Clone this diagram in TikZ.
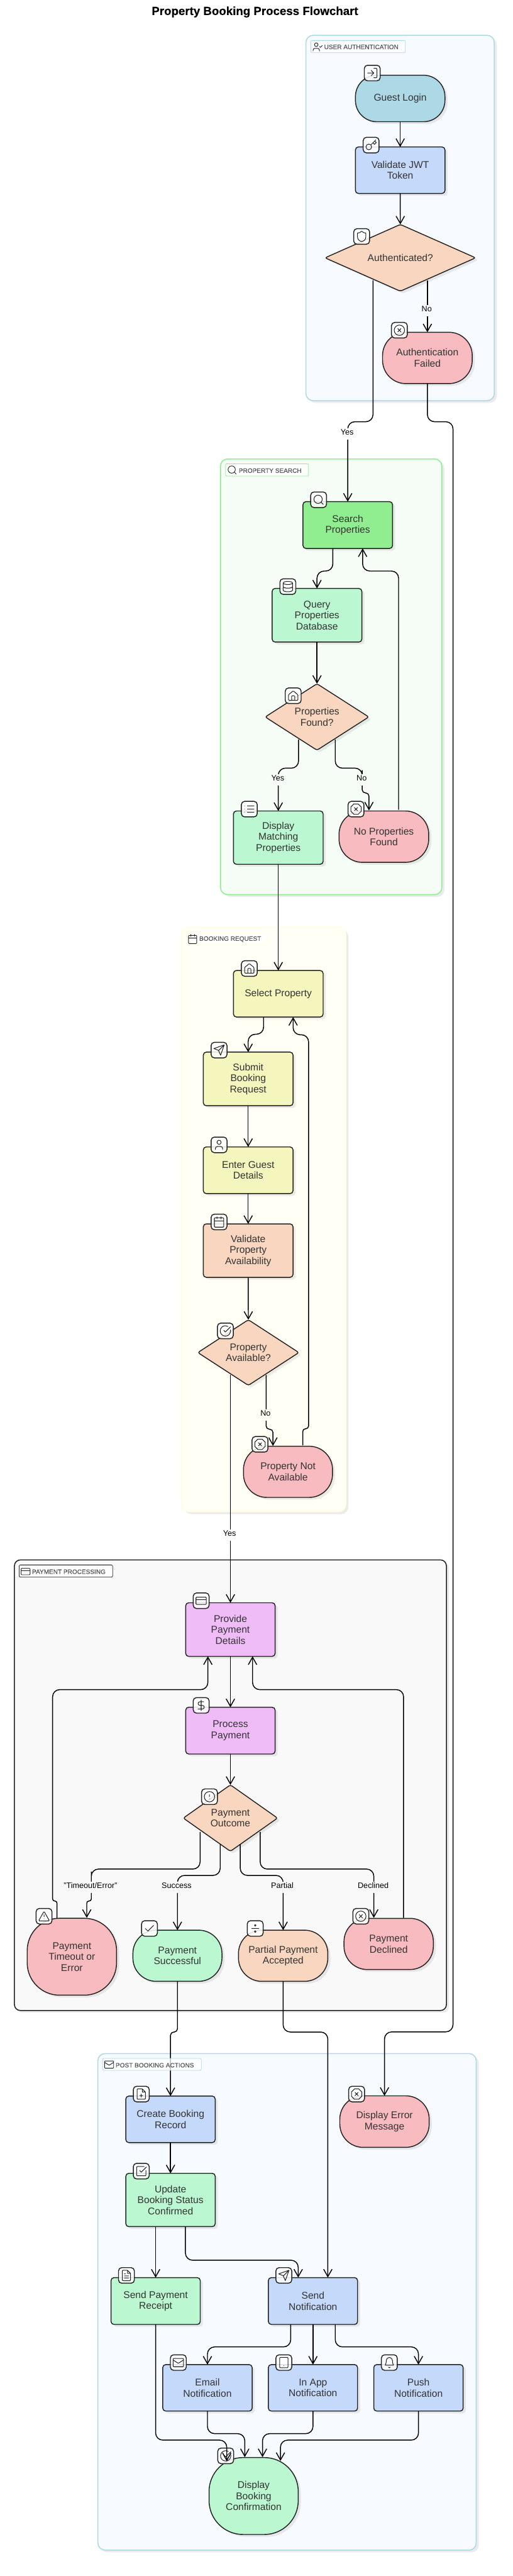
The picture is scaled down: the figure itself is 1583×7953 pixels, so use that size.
\documentclass[tikz,border=0pt]{standalone}
\usepackage{fontspec}
\setmainfont{Liberation Sans}
\newfontfamily\titlefont[FakeBold=0.3]{Liberation Sans Bold}
\newfontfamily\glabfont[FakeBold=0.25]{Liberation Sans}
\usetikzlibrary{arrows.meta,shapes.geometric}
\definecolor{ink}{HTML}{222222}
\definecolor{ctext}{HTML}{333333}
\definecolor{cteal}{HTML}{ADD8E6}
\definecolor{cblue}{HTML}{C5D9FB}
\definecolor{cpeach}{HTML}{F8D6BF}
\definecolor{cpink}{HTML}{F8BBBF}
\definecolor{cgreen}{HTML}{90EE90}
\definecolor{cmint}{HTML}{BBF7D0}
\definecolor{cyell}{HTML}{F5F5BE}
\definecolor{cviolet}{HTML}{F0BCF8}
\definecolor{gblue}{HTML}{F7FBFF}
\definecolor{ggreen}{HTML}{F6FDF6}
\definecolor{gyell}{HTML}{FFFFF6}
\definecolor{ggrey}{HTML}{F9F9F9}
\definecolor{byell}{HTML}{FFFFE0}
\definecolor{glabtext}{HTML}{555555}
\tikzset{
  sz/.style 2 args={minimum width=#1pt,minimum height=#2pt},
  cast/.style={preaction={fill=black,fill opacity=.08,transform canvas={shift={(8pt,-7pt)}}}},
  base/.style={draw=ink,line width=2.8pt,inner sep=0pt,outer sep=0pt,align=center,text=ctext,cast,
     font=\fontsize{30.3}{34}\selectfont},
  boxn/.style={base,rectangle,rounded corners=9pt},
  pill/.style={base,rectangle,rounded corners=#1pt},
  dia/.style={base,diamond,shape aspect=1.5,rounded corners=6pt,fill=cpeach},
  group/.style={rectangle,line width=3pt,inner sep=0pt,outer sep=0pt,rounded corners=22pt,cast},
  glab/.style={rectangle,line width=1.5pt,rounded corners=4pt,inner sep=0pt,fill=white,fill opacity=.75},
  gtext/.style={anchor=west,inner sep=0pt,text=glabtext,font=\glabfont\fontsize{19.5}{22}\selectfont},
  iconbox/.style={draw=ink,line width=2.8pt,rectangle,rounded corners=10pt,inner sep=0pt,outer sep=0pt,
     minimum width=49pt,minimum height=48pt,fill=white,fill opacity=.86},
  flow/.style={draw=black,line width=2.8pt,rounded corners=22pt,-{Straight Barb[length=23pt,width=26pt]}},
  elabel/.style={inner sep=0pt,outer sep=0pt,text=black,text height=20pt,text depth=15pt,
     font=\fontsize{24.5}{26}\selectfont},
  ttl/.style={inner sep=0pt,text=black,font=\titlefont\fontsize{36.3}{40}\selectfont},
  glyph/.style={color=ink,line width=2pt,line cap=round,line join=round,shift={(-12,-12)}},
  glyphl/.style={color=ink,line width=1.8pt,line cap=round,line join=round,shift={(-12,-12)}},
  iclogin/.pic={\draw[glyph,rounded corners=2pt] (15,3) -- (21,3) -- (21,21) -- (15,21) [sharp corners] (10,17) -- (15,12) -- (10,7) (15,12) -- (3,12);},
  ickey/.pic={\draw[glyph] (7.5,15.5) circle[radius=5.5] (21,2) -- (11.4,11.6) (15.5,7.5) -- (18.5,10.5) -- (22,7) -- (19,4);},
  icshield/.pic={\draw[glyph] (20,13) .. controls (20,18) and (16.5,20.5) .. (12,22) .. controls (7.5,20.5) and (4,18) .. (4,13) -- (4,5.5) .. controls (6.5,5.5) and (9.5,4.3) .. (12,2) .. controls (14.5,4.3) and (17.5,5.5) .. (20,5.5) -- cycle;},
  iccircx/.pic={\draw[glyph] (12,12) circle[radius=10] (15,9) -- (9,15) (9,9) -- (15,15);},
  icsearch/.pic={\draw[glyph] (11,11) circle[radius=8] (21,21) -- (16.7,16.7);},
  icsearchl/.pic={\draw[glyphl] (11,11) circle[radius=8] (21,21) -- (16.7,16.7);},
  icdb/.pic={\draw[glyph] (12,5) ellipse[x radius=9,y radius=3] (3,5) -- (3,19) .. controls (3,20.66) and (7,22) .. (12,22) .. controls (17,22) and (21,20.66) .. (21,19) -- (21,5) (3,12) .. controls (3,13.66) and (7,15) .. (12,15) .. controls (17,15) and (21,13.66) .. (21,12);},
  ichome/.pic={\draw[glyph,rounded corners=2pt] (3,10) -- (12,2.5) -- (21,10) -- (21,21) -- (3,21) -- cycle (9,21) -- (9,12) -- (15,12) -- (15,21);},
  iclist/.pic={\draw[glyph] (8,6) -- (21,6) (8,12) -- (21,12) (8,18) -- (21,18) (3,6) -- (3.01,6) (3,12) -- (3.01,12) (3,18) -- (3.01,18);},
  icoctx/.pic={\draw[glyph] (7.86,2) -- (16.14,2) -- (22,7.86) -- (22,16.14) -- (16.14,22) -- (7.86,22) -- (2,16.14) -- (2,7.86) -- cycle (15,9) -- (9,15) (9,9) -- (15,15);},
  icsend/.pic={\draw[glyph] (15,21.9) -- (22,2) -- (2,9) -- (10.8,12.4) -- cycle (21.85,2.15) -- (10.9,13.1);},
  icuser/.pic={\draw[glyph] (12,7) circle[radius=4] (19,21) -- (19,19) .. controls (19,16.8) and (17.2,15) .. (15,15) -- (9,15) .. controls (6.8,15) and (5,16.8) .. (5,19) -- (5,21);},
  iccal/.pic={\draw[glyph] (8,2) -- (8,6) (16,2) -- (16,6) (3,10) -- (21,10) [rounded corners=2pt] (3,4) rectangle (21,22);},
  iccalb/.pic={\draw[glyphl] (8,2) -- (8,6) (16,2) -- (16,6) (3,10) -- (21,10) [rounded corners=2pt] (3,4) rectangle (21,22);},
  iccheckbig/.pic={\draw[glyph] (17,3.34) .. controls (15.5,2.5) and (13.8,2) .. (12,2) .. controls (6.48,2) and (2,6.48) .. (2,12) .. controls (2,17.52) and (6.48,22) .. (12,22) .. controls (17.52,22) and (22,17.52) .. (22,12) .. controls (22,11.3) and (21.93,10.65) .. (21.8,10) (9,11) -- (12,14) -- (22,4);},
  iccard/.pic={\draw[glyph,rounded corners=2pt] (2,5) rectangle (22,19) [sharp corners] (2,10) -- (22,10);},
  iccardl/.pic={\draw[glyphl,rounded corners=2pt] (2,5) rectangle (22,19) [sharp corners] (2,10) -- (22,10);},
  icdollar/.pic={\draw[glyph] (12,2) -- (12,22) (17,5) -- (9.5,5) .. controls (7.57,5) and (6,6.57) .. (6,8.5) .. controls (6,10.43) and (7.57,12) .. (9.5,12) -- (14.5,12) .. controls (16.43,12) and (18,13.57) .. (18,15.5) .. controls (18,17.43) and (16.43,19) .. (14.5,19) -- (6,19);},
  icalert/.pic={\draw[glyph] (12,12) circle[radius=10] (12,8) -- (12,12) (12,16) -- (12.01,16);},
  ictri/.pic={\draw[glyph] (12,9) -- (12,13) (12,17) -- (12.01,17) [rounded corners=2.5pt] (12,2.5) -- (22.5,21) -- (1.5,21) -- cycle;},
  iccheck/.pic={\draw[glyph] (20,6) -- (9,17) -- (4,12);},
  icdivide/.pic={\draw[glyph] (5,12) -- (19,12) (12,6) circle[radius=1.6] (12,18) circle[radius=1.6];},
  icfileplus/.pic={\draw[glyph] (14,2) -- (14,8) -- (20,8) (12,18) -- (12,12) (9,15) -- (15,15) [rounded corners=2pt] (14,2) -- (4,2) -- (4,22) -- (20,22) -- (20,8) -- cycle;},
  icsqcheck/.pic={\draw[glyph] (9,11) -- (12,14) -- (22,4) [rounded corners=2pt] (21,10.5) -- (21,21) -- (3,21) -- (3,3) -- (17.5,3);},
  icfiletext/.pic={\draw[glyph] (14,2) -- (14,8) -- (20,8) (16,13) -- (8,13) (16,17) -- (8,17) (10,9) -- (8,9) [rounded corners=2pt] (14,2) -- (4,2) -- (4,22) -- (20,22) -- (20,8) -- cycle;},
  icmail/.pic={\draw[glyph] [rounded corners=2pt] (2,4) rectangle (22,20) (22,7) -- (12,13.5) -- (2,7);},
  icmaill/.pic={\draw[glyphl] [rounded corners=2pt] (2,4) rectangle (22,20) (22,7) -- (12,13.5) -- (2,7);},
  ictablet/.pic={\draw[glyph] (12,18) -- (12.01,18) [rounded corners=2pt] (4,2) rectangle (20,22);},
  icbell/.pic={\draw[glyph] (10.3,21) .. controls (11,22.3) and (13,22.3) .. (13.7,21) (4,17) -- (20,17) .. controls (19,15) and (18,13) .. (18,8) .. controls (18,4.7) and (15.3,2) .. (12,2) .. controls (8.7,2) and (6,4.7) .. (6,8) .. controls (6,13) and (5,15) .. (4,17) -- cycle;},
  icusercheck/.pic={\draw[glyphl] (9,7) circle[radius=4] (16,21) -- (16,19) .. controls (16,16.8) and (14.2,15) .. (12,15) -- (6,15) .. controls (3.8,15) and (2,16.8) .. (2,19) -- (2,21) (16,11) -- (18,13) -- (22,9);},
}
\newcommand{\iconat}[4]{\node[iconbox] (#1) at (#2,#3) {}; \pic[scale=1.6] at (#1) {#4};}
\begin{document}
\begin{tikzpicture}[x=1pt,y=-1pt]
\useasboundingbox (0,0) rectangle (1583,7953);
\fill[white] (0,0) rectangle (1583,7953);

% groups
\node[group,draw=cteal,fill=gblue,sz={581.5}{1128}] (gauth) at (1235.75,673) {};
\node[group,draw=cgreen,fill=ggreen,sz={683.5}{1345}] (gsearch) at (1022.75,2089.5) {};
\node[group,draw=byell,fill=gyell,sz={508}{1804.5}] (gbook) at (814,3765.25) {};
\node[group,draw=ink,fill=ggrey,sz={1334}{1391},rounded corners=18pt] (gpay) at (711.6,5511.5) {};
\node[group,draw=cteal,fill=gblue,sz={1168.3}{1533}] (gpost) at (886.5,7106.5) {};

% title
\node[ttl] (title) at (787.3,37) {Property Booking Process Flowchart};

% user authentication
\node[pill=66,fill=cteal,sz={276.5}{143.5}] (guest) at (1236,304) {Guest Login};
\iconat{icguest}{1149.7}{225.5}{iclogin}
\node[boxn,fill=cblue,sz={276.5}{143.5}] (validate) at (1236,525.5) {Validate JWT\\Token};
\iconat{icvalidate}{1146.2}{448}{ickey}
\node[dia,sz={465}{206}] (authd) at (1236.4,796) {Authenticated?};
\iconat{icauthd}{1117}{730}{icshield}
\node[pill=72,fill=cpink,sz={277}{158.5}] (authfail) at (1320,1105) {Authentication\\Failed};
\iconat{icauthfail}{1233.5}{1019.5}{iccircx}

% property search
\node[boxn,fill=cgreen,sz={276.5}{144.5}] (search) at (1074,1621) {Search\\Properties};
\iconat{icsearchn}{984}{1543}{icsearch}
\node[boxn,fill=cmint,sz={277}{165.5}] (query) at (979,1899.5) {Query\\Properties\\Database};
\iconat{icquery}{889}{1811}{icdb}
\node[dia,sz={320}{205}] (propd) at (979,2213.5) {Properties\\Found?};
\iconat{icpropd}{905.5}{2148}{ichome}
\node[boxn,fill=cmint,sz={277}{164.5}] (showprops) at (859.5,2586) {Display\\Matching\\Properties};
\iconat{icshow}{770}{2498}{iclist}
\node[pill=72,fill=cpink,sz={277}{158.5}] (noprops) at (1185.6,2583) {No Properties\\Found};
\iconat{icnoprops}{1099.5}{2498}{icoctx}

% booking request
\node[boxn,fill=cyell,sz={277}{143.5}] (select) at (859.5,3068) {Select Property};
\iconat{icselect}{770}{2990}{ichome}
\node[boxn,fill=cyell,sz={277}{165.5}] (submit) at (766.5,3331) {Submit\\Booking\\Request};
\iconat{icsubmit}{676.5}{3242}{icsend}
\node[boxn,fill=cyell,sz={277}{144}] (guestd) at (766.5,3613) {Enter Guest\\Details};
\iconat{icguestd}{676.5}{3534.6}{icuser}
\node[boxn,fill=cpeach,sz={277}{165}] (validav) at (766.5,3861) {Validate\\Property\\Availability};
\iconat{icvalidav}{676.5}{3772.6}{iccal}
\node[dia,sz={312}{202.5}] (availd) at (767,4175.8) {Property\\Available?};
\iconat{icavaild}{696}{4109}{iccheckbig}
\node[pill=72,fill=cpink,sz={275}{158}] (notavail) at (889.5,4544) {Property Not\\Available};
\iconat{icnotavail}{803}{4459}{icoctx}

% payment processing
\node[boxn,fill=cviolet,sz={276}{165.5}] (provide) at (711.6,5031) {Provide\\Payment\\Details};
\iconat{icprovide}{621.3}{4942}{iccard}
\node[boxn,fill=cviolet,sz={276}{144.4}] (process) at (711.6,5343) {Process\\Payment};
\iconat{icprocess}{621.3}{5265}{icdollar}
\node[dia,sz={291}{205}] (payd) at (711.6,5613) {Payment\\Outcome};
\iconat{icpayd}{647}{5547}{icalert}
\node[pill=100,fill=cpink,sz={276}{237.5}] (timeout) at (222,6041) {Payment\\Timeout or\\Error};
\iconat{ictimeout}{136}{5916}{ictri}
\node[pill=72,fill=cmint,sz={275}{158}] (success) at (548,6038) {Payment\\Successful};
\iconat{icsuccess}{461.6}{5953.8}{iccheck}
\node[pill=72,fill=cpeach,sz={276}{158}] (partial) at (874.5,6038) {Partial Payment\\Accepted};
\iconat{icpartial}{788.2}{5953.8}{icdivide}
\node[pill=72,fill=cpink,sz={276}{158}] (declined) at (1200.4,6001.5) {Payment\\Declined};
\iconat{icdeclined}{1114.4}{5916}{iccircx}

% post booking actions
\node[boxn,fill=cblue,sz={276}{143.5}] (create) at (526.6,6543) {Create Booking\\Record};
\iconat{iccreate}{436.3}{6465}{icfileplus}
\node[boxn,fill=cmint,sz={276}{164.5}] (update) at (526.6,6792) {Update\\Booking Status\\Confirmed};
\iconat{icupdate}{436.3}{6703}{icsqcheck}
\node[boxn,fill=cmint,sz={275.5}{144.5}] (receipt) at (480.7,7104) {Send Payment\\Receipt};
\iconat{icreceipt}{390.5}{7025}{icfiletext}
\node[boxn,fill=cblue,sz={275.5}{144.5}] (notify) at (966.6,7104) {Send\\Notification};
\iconat{icnotify}{876.5}{7025}{icsend}
\node[boxn,fill=cblue,sz={276}{143.5}] (email) at (640.7,7372) {Email\\Notification};
\iconat{icemail}{550.7}{7294}{icmail}
\node[boxn,fill=cblue,sz={275.5}{143.5}] (inapp) at (966.6,7372) {In App\\Notification};
\iconat{icinapp}{876.5}{7294}{ictablet}
\node[boxn,fill=cblue,sz={276}{143.5}] (push) at (1292.4,7372) {Push\\Notification};
\iconat{icpush}{1202.5}{7294}{icbell}
\node[pill=105,fill=cmint,sz={275.5}{237.5}] (confirm) at (783.4,7706) {Display\\Booking\\Confirmation};
\iconat{icconfirm}{697}{7582}{iccheckbig}
\node[pill=72,fill=cpink,sz={276}{159}] (errmsg) at (1187.5,6550) {Display Error\\Message};
\iconat{icerrmsg}{1101.4}{6465}{icoctx}

% ports: where a connector leaves or meets a node off its centre line
\coordinate (authYes) at (1152,865);
\coordinate (authNo) at (1320,865);
\coordinate (searchOut) at (1028,1693);
\coordinate (searchBack) at (1120,1693);
\coordinate (propYes) at (922,2283);
\coordinate (propNo) at (1035.4,2283);
\coordinate (noIn) at (1139.5,2502);
\coordinate (noOut) at (1231,2500);
\coordinate (selectOut) at (814,3140);
\coordinate (selectBack) at (905.3,3140);
\coordinate (availYes) at (711.6,4243.5);
\coordinate (availNo) at (822,4245);
\coordinate (naIn) at (843,4464);
\coordinate (naOut) at (935,4462);
\coordinate (provBackL) at (642,5113.5);
\coordinate (provBackR) at (780,5113.5);
\coordinate (timeoutOut) at (176,5922);
\coordinate (timeoutIn) at (268,5921);
\coordinate (declOut) at (1246.4,5921);
\coordinate (declIn) at (1154.5,5921);
\coordinate (payTime) at (618,5655.6);
\coordinate (paySucc) at (680,5694);
\coordinate (payPart) at (742,5694);
\coordinate (payDecl) at (803.6,5655.6);
\coordinate (updReceipt) at (480.7,6874.5);
\coordinate (updNotify) at (572.7,6874.5);
\coordinate (notifyInA) at (921,7031.6);
\coordinate (notifyInB) at (1012.5,7031.6);
\coordinate (notifyEm) at (897.8,7176);
\coordinate (notifyPu) at (1035.4,7176);
\coordinate (confA) at (700.4,7598.8);
\coordinate (confB) at (756,7586);
\coordinate (confC) at (810.7,7586);
\coordinate (confD) at (866.2,7597.7);

% connectors
\draw[flow] (guest.south) -- (validate.north);
\draw[flow] (validate.south) -- (authd.north);
\draw[flow] (authNo) -- (authfail.north);
\draw[flow] (authYes) -- (1152,1302) -- (1074,1302) -- (search.north);
\draw[flow] (authfail.south) -- (1320,1302) -- (1399,1302) -- (1399,6273) -- (1187.5,6273) -- (errmsg.north);
\draw[flow] (searchOut) -- (1028,1763) -- (979,1763) -- (query.north);
\draw[flow] (query.south) -- (propd.north);
\draw[flow] (propYes) -- (922,2371.5) -- (859.5,2371.5) -- (showprops.north);
\draw[flow] (propNo) -- (1035.4,2371.5) -- (1118.6,2371.5) -- (1118.6,2400) [rounded corners=10pt] -- (1118.6,2448) -- (1139.5,2448) -- (noIn);
\draw[flow] (noOut) -- (1231,1763) -- (1120,1763) -- (searchBack);
\draw[flow] (showprops.south) -- (select.north);
\draw[flow] (selectOut) -- (814,3193) -- (766.5,3193) -- (submit.north);
\draw[flow] (submit.south) -- (guestd.north);
\draw[flow] (guestd.south) -- (validav.north);
\draw[flow] (validav.south) -- (availd.north);
\draw[flow] (availYes) -- (provide.north);
\draw[flow,rounded corners=10pt] (availNo) -- (822,4412.5) -- (843,4412.5) -- (naIn);
\draw[flow,rounded corners=8.5pt] (naOut) -- (935,4411) -- (953,4411) -- (953,4300) [rounded corners=22pt] -- (953,3194.7) -- (905.3,3194.7) -- (selectBack);
\draw[flow] (provide.south) -- (process.north);
\draw[flow,rounded corners=6.5pt] (timeoutOut) -- (176,5869) -- (162.5,5869) -- (162.5,5700) [rounded corners=22pt] -- (162.5,5216.4) -- (642,5216.4) -- (provBackL);
\draw[flow] (declOut) -- (1246.4,5216.4) -- (780,5216.4) -- (provBackR);
\draw[flow] (process.south) -- (payd.north);
\draw[flow] (payTime) -- (618,5770.4) -- (282,5770.4) -- (282,5800) [rounded corners=6.5pt] -- (282,5869) -- (268,5869) -- (timeoutIn);
\draw[flow] (paySucc) -- (680,5790) -- (548,5790) -- (success.north);
\draw[flow] (payPart) -- (742,5790) -- (874.5,5790) -- (partial.north);
\draw[flow] (payDecl) -- (803.6,5770.4) -- (1154.5,5770.4) -- (declIn);
\draw[flow,rounded corners=10pt] (success.south) -- (548,6273.5) -- (526.6,6273.5) -- (create.north);
\draw[flow] (partial.south) -- (874.5,6273.5) -- (1012.5,6273.5) -- (notifyInB);
\draw[flow] (create.south) -- (update.north);
\draw[flow] (updReceipt) -- (receipt.north);
\draw[flow] (updNotify) -- (572.7,6978) -- (921,6978) -- (notifyInA);
\draw[flow] (notifyEm) -- (897.8,7245.6) -- (640.7,7245.6) -- (email.north);
\draw[flow] (notify.south) -- (inapp.north);
\draw[flow] (notifyPu) -- (1035.4,7245.6) -- (1292.4,7245.6) -- (push.north);
\draw[flow] (email.south) -- (640.7,7513.4) -- (756,7513.4) -- (confB);
\draw[flow] (inapp.south) -- (966.6,7513.4) -- (810.7,7513.4) -- (confC);
\draw[flow] (push.south) -- (1292.4,7533.4) -- (866.2,7533.4) -- (confD);
\draw[flow] (receipt.south) -- (480.7,7533.4) -- (700.4,7533.4) -- (confA);

% connector labels
\node[elabel,fill=gblue] (lauthno) at (1318,959.5) {No};
\node[elabel,fill=white] (lauthyes) at (1072,1339.5) {Yes};
\node[elabel,fill=ggreen] (lpropyes) at (858,2407.5) {Yes};
\node[elabel,fill=ggreen] (lpropno) at (1117,2407.5) {No};
\node[elabel,fill=gyell] (lavailno) at (820,4369.5) {No};
\node[elabel,fill=white] (lavailyes) at (709,4739) {Yes};
\node[elabel,fill=ggrey] (ltime) at (279.5,5827.5) {"Timeout/Error"};
\node[elabel,fill=ggrey] (lsucc) at (545.5,5827.5) {Success};
\node[elabel,fill=ggrey] (lpart) at (872,5827.5) {Partial};
\node[elabel,fill=ggrey] (ldecl) at (1152.7,5827.5) {Declined};

% group labels
\node[glab,draw=cteal,sz={292}{37.5}] (gauthbox) at (1106,143.75) {};
\pic[scale=1.4] at (981,145) {icusercheck};
\node[gtext] (gauthtext) at (1001,145) {USER AUTHENTICATION};
\node[glab,draw=cgreen,sz={256.4}{38}] (gsearchbox) at (824.8,1451) {};
\pic[scale=1.4] at (717,1451) {icsearchl};
\node[gtext] (gsearchtext) at (737.5,1453) {PROPERTY SEARCH};
\node[glab,draw=byell,sz={253}{36.4}] (gbookbox) at (701.5,2897.8) {};
\pic[scale=1.4] at (595,2899) {iccalb};
\node[gtext] (gbooktext) at (615.5,2899.5) {BOOKING REQUEST};
\node[glab,draw=ink,sz={289}{37.5}] (gpaybox) at (203.5,4850.25) {};
\pic[scale=1.4] at (79,4852) {iccardl};
\node[gtext] (gpaytext) at (99,4852.5) {PAYMENT PROCESSING};
\node[glab,draw=cteal,sz={304.6}{37}] (gpostbox) at (469.3,6373.25) {};
\pic[scale=1.4] at (337,6374) {icmaill};
\node[gtext] (gposttext) at (357,6376) {POST BOOKING ACTIONS};
\end{tikzpicture}
\end{document}
